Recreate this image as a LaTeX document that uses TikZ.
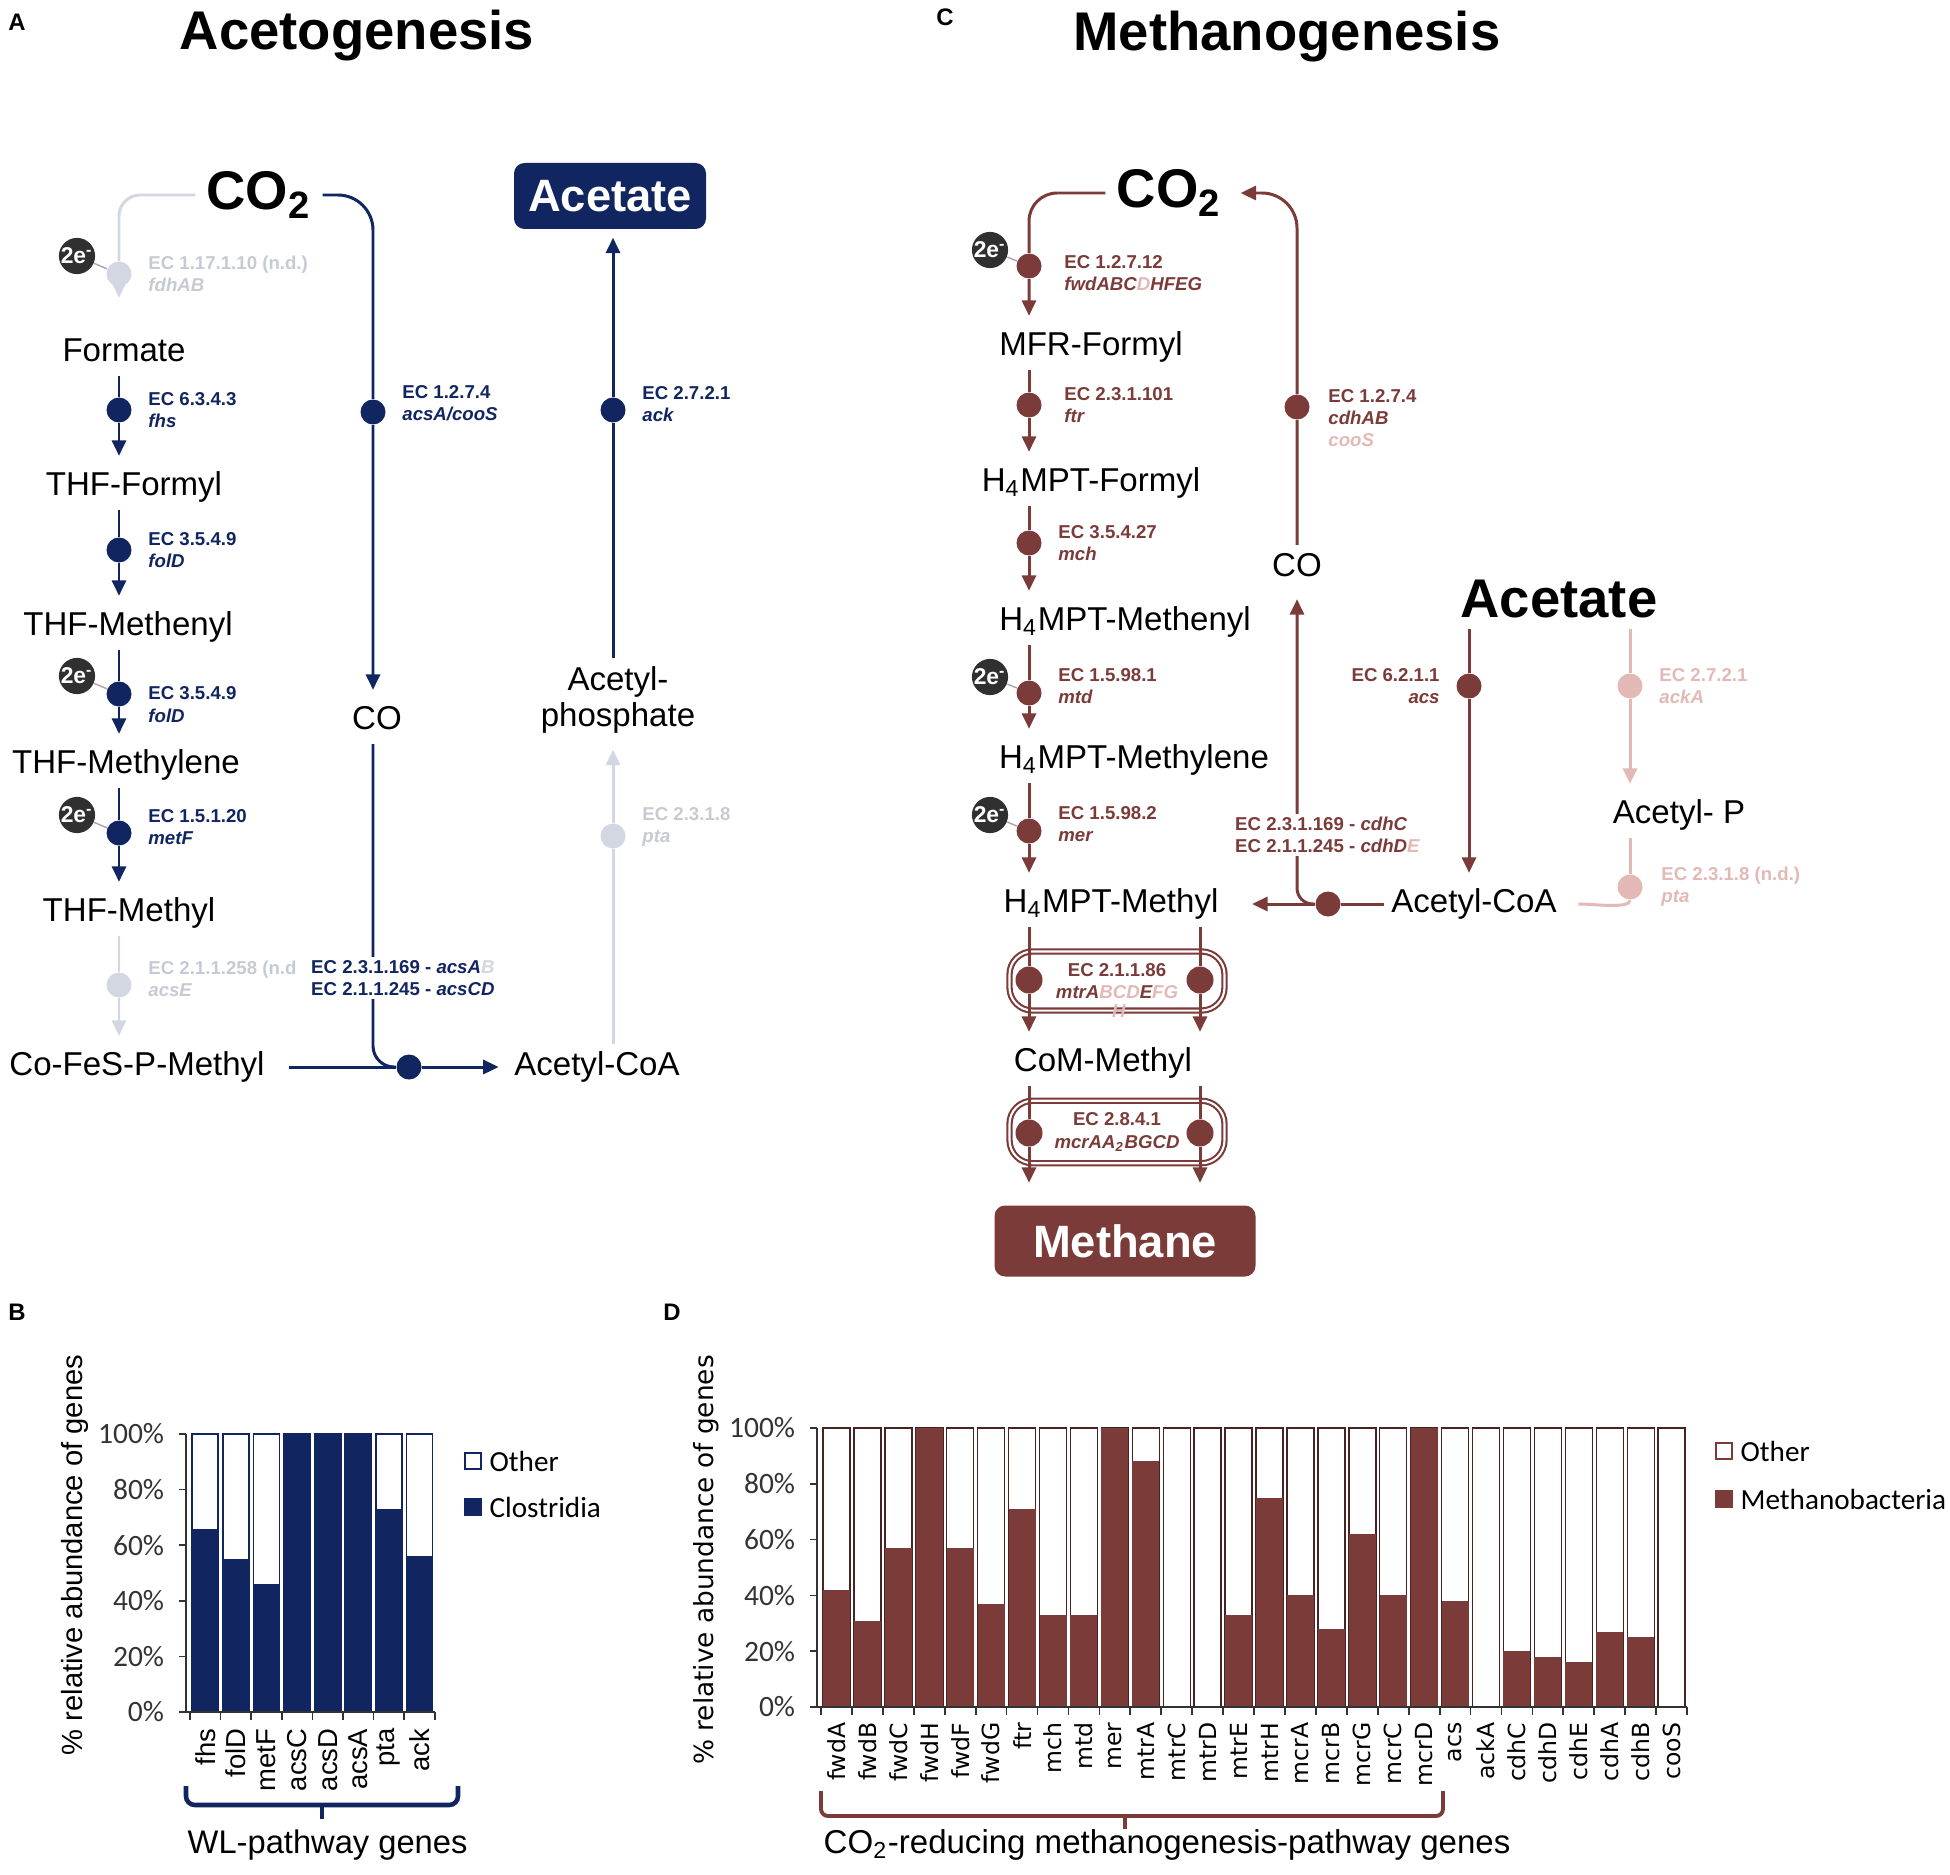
\documentclass[tikz,border=0pt]{standalone}
\usepackage{fontspec}
\setmainfont{Liberation Sans}
\newfontfamily\calibrifont{Carlito}
\newfontfamily\verdanafont{DejaVu Sans}
\usepackage{tikz}
\usetikzlibrary{
    arrows.meta,
    positioning,
}
\definecolor{aceto}{RGB}{17,37,96}
\definecolor{acetopale}{RGB}{210,215,226}
\definecolor{methano}{RGB}{122,59,57}
\definecolor{methanopale}{RGB}{226,185,181}
\definecolor{electrongray}{RGB}{48,48,48}
\tikzset{
    metabolite/.style={font=\fontsize{9.4}{10.6}\selectfont, inner sep=2pt, text height=6.9pt, text depth=1.9pt},
    substrate/.style={font=\bfseries\fontsize{15.5}{17}\selectfont, inner sep=3pt},
    end product/.style={rounded corners=3pt, text=white, font=\bfseries\fontsize{12.9}{14}\selectfont},
    enzyme/.style={circle, minimum size=2.5mm, inner sep=0pt},
    ec label/.style={font=\bfseries\fontsize{5.3}{6.3}\selectfont, align=left, inner sep=1pt},
    two electrons/.style={circle, fill=electrongray, text=white, minimum size=3.4mm, inner sep=0pt, font=\bfseries\fontsize{6.5}{7}\selectfont},
    electron link/.style={gray!70, line width=0.4pt},
    reaction/.style={line width=0.85pt, -{Triangle[length=4.4pt,width=4pt]}, shorten >=0.8mm},
    branch/.style={line width=0.85pt},
    complex/.style={draw=methano, line width=0.6pt, double=white, double distance=0.6pt, rounded corners=2.3mm,
        minimum width=21.5mm, minimum height=4.7mm, align=center, text=methano, font=\bfseries\fontsize{5.3}{6.4}\selectfont},
    panel label/.style={font=\bfseries\fontsize{6.8}{8}\selectfont},
    panel title/.style={font=\bfseries\fontsize{15.5}{17}\selectfont},
}

\begin{document}
\begin{tikzpicture}[
    x=0.1mm, y=-0.1mm,
    tick label/.style={font=\calibrifont\fontsize{8.4}{9}\selectfont, inner sep=4pt},
    legend label/.style={font=\calibrifont\fontsize{8.3}{9}\selectfont, inner sep=2pt},
    gene/.style={rotate=90, anchor=east, inner sep=0pt},
    axis title/.style={font=\fontsize{9.3}{10}\selectfont, inner sep=0pt},
    legend box/.style={minimum size=1.6mm, inner sep=0pt, line width=0.5pt},
    ]
    \useasboundingbox (0,0) rectangle (1950,1875);

    % ---- A: acetogenesis ----
    \node[panel label] (labA) at (17,22) {A};
    \node[panel title] (titA) at (357,36) {Acetogenesis};
    \node[substrate] (co2A) at (259,195) {CO\textsubscript{2}};
    \node[end product, fill=aceto, minimum width=19.2mm, minimum height=6.6mm] (acetA) at (610,196) {Acetate};

    \node[metabolite] (formate) at (124,353) {Formate};
    \node[metabolite] (thfformyl) at (134,487) {THF-Formyl};
    \node[metabolite] (thfmethenyl) at (128,627) {THF-Methenyl};
    \node[metabolite] (thfmethylene) at (126,765) {THF-Methylene};
    \node[metabolite] (thfmethyl) at (129,913) {THF-Methyl};
    \node[metabolite] (cofes) at (137,1067) {Co-FeS-P-Methyl};
    \node[metabolite] (coA) at (377,721) {CO};
    \node[metabolite] (acetylA) at (597,1067) {Acetyl-CoA};
    \node[font=\fontsize{9.4}{10.5}\selectfont, align=center, inner sep=2pt] (acp) at (618,700) {Acetyl-\\phosphate};

    \node[enzyme, fill=acetopale] (fdh) at (119,274) {};
    \node[enzyme, fill=aceto] (fhs) at (119,410) {};
    \node[enzyme, fill=aceto] (folDa) at (119,550) {};
    \node[enzyme, fill=aceto] (folDb) at (119,694) {};
    \node[enzyme, fill=aceto] (metF) at (119,833) {};
    \node[enzyme, fill=acetopale] (acsE) at (119,985) {};
    \node[enzyme, fill=aceto] (cooS) at (373,412) {};
    \node[enzyme, fill=aceto] (acsCD) at (409,1067) {};
    \node[enzyme, fill=acetopale] (pta) at (613,836) {};
    \node[enzyme, fill=aceto] (ack) at (613,410) {};

    \draw[reaction, acetopale, rounded corners=6pt, shorten >=3.2mm] (co2A.west) -| (fdh) -- (fdh |- formate.north);
    \foreach \a/\e/\b/\c in {formate/fhs/thfformyl/aceto, thfformyl/folDa/thfmethenyl/aceto,
        thfmethenyl/folDb/thfmethylene/aceto, thfmethylene/metF/thfmethyl/aceto, thfmethyl/acsE/cofes/acetopale}
        \draw[reaction, \c] (\e |- \a.south) -- (\e) -- (\e |- \b.north);
    \draw[reaction, aceto, rounded corners=10pt] (co2A.east) -| (cooS) -- (cooS |- coA.north);
    \draw[branch, aceto, rounded corners=6pt] (cooS |- coA.south) |- (acsCD);
    \draw[branch, aceto, shorten <=1.7mm] (cofes.east) -- (acsCD);
    \draw[reaction, aceto] (acsCD) -- (acetylA.west);
    \draw[reaction, acetopale] (pta |- acetylA.north) -- (pta) -- (pta |- acp.south);
    \draw[reaction, aceto] (ack |- acp.north) -- (ack) -- (ack |- acetA.south);

    \foreach \e/\n in {fdh/eA, folDb/eB, metF/eC} {
        \node[two electrons] (\n) at ([xshift=-4.2mm, yshift=1.8mm]\e) {2e\textsuperscript{-}};
        \draw[electron link] (\n) -- (\e);
    }

    \node[ec label, text=acetopale!85!gray, right=1.2mm of fdh] (fdhlab) {EC 1.17.1.10 (n.d.)\\\textit{fdhAB}};
    \node[ec label, text=aceto, right=1.2mm of fhs] (fhslab) {EC 6.3.4.3\\\textit{fhs}};
    \node[ec label, text=aceto, right=1.2mm of folDa] (folDalab) {EC 3.5.4.9\\\textit{folD}};
    \node[ec label, text=aceto, right=1.2mm of folDb, yshift=-3pt] (folDblab) {EC 3.5.4.9\\\textit{folD}};
    \node[ec label, text=aceto, right=1.2mm of metF, yshift=1.7pt] (metFlab) {EC 1.5.1.20\\\textit{metF}};
    \node[ec label, text=acetopale!85!gray, right=1.2mm of acsE, yshift=1.7pt] (acsElab) {EC 2.1.1.258 (n.d\\\textit{acsE}};
    \node[ec label, text=aceto, right=1.2mm of cooS, yshift=2.4pt] (cooSlab) {EC 1.2.7.4\\\textit{acsA/cooS}};
    \node[ec label, text=aceto, fill=white, anchor=west] (acsCDlab) at (307,978)
        {EC 2.3.1.169 - \textit{acsA\textcolor{acetopale}{B}}\\EC 2.1.1.245 - \textit{acsCD}};
    \node[ec label, text=aceto, right=1.2mm of ack, yshift=1.8pt] (acklab) {EC 2.7.2.1\\\textit{ack}};
    \node[ec label, text=acetopale!85!gray, right=1.2mm of pta, yshift=2.5pt] (ptalab) {EC 2.3.1.8\\\textit{pta}};

    % ---- C: methanogenesis ----
    \node[panel label] (labC) at (945,17) {C};
    \node[panel title] (titC) at (1287,37) {Methanogenesis};
    \node[substrate] (co2C) at (1169,193) {CO\textsubscript{2}};
    \node[metabolite] (mfr) at (1091,347) {MFR-Formyl};
    \node[metabolite] (hformyl) at (1091,483) {H\textsubscript{4}MPT-Formyl};
    \node[metabolite] (hmethenyl) at (1125,622) {H\textsubscript{4}MPT-Methenyl};
    \node[metabolite] (hmethylene) at (1134,760) {H\textsubscript{4}MPT-Methylene};
    \node[metabolite] (hmethyl) at (1111,904) {H\textsubscript{4}MPT-Methyl};
    \node[metabolite] (commethyl) at (1103,1063) {CoM-Methyl};
    \node[end product, fill=methano, minimum width=26.1mm, minimum height=7.1mm] (methane) at (1125,1241) {Methane};
    \node[metabolite] (coC) at (1297,568) {CO};
    \node[substrate] (acetC) at (1559,599) {Acetate};
    \node[metabolite] (acetylC) at (1474,904) {Acetyl-CoA};
    \node[metabolite] (acetylP) at (1679,815) {Acetyl- P};

    \node[complex] (mtr) at (1117,981) {EC 2.1.1.86\\\textit{mtrA\textcolor{methanopale}{BCD}E\textcolor{methanopale}{FG}}};
    \node[complex] (mcr) at (1117,1132) {EC 2.8.4.1\\\textit{mcrAA\textsubscript{2}BGCD}};
    \node[ec label, text=methanopale] (mtrH) at (1119,1011) {\textit{H}};

    \node[enzyme, fill=methano] (fwd) at (1029,266) {};
    \node[enzyme, fill=methano] (ftr) at (1029,405) {};
    \node[enzyme, fill=methano] (mch) at (1029,543) {};
    \node[enzyme, fill=methano] (mtd) at (1029,693) {};
    \node[enzyme, fill=methano] (mer) at (1029,831) {};
    \node[enzyme, fill=methano, minimum size=2.7mm] (mtrL) at (1029,980) {};
    \node[enzyme, fill=methano, minimum size=2.7mm] (mtrR) at (1200,980) {};
    \node[enzyme, fill=methano, minimum size=2.7mm] (mcrL) at (1029,1133) {};
    \node[enzyme, fill=methano, minimum size=2.7mm] (mcrR) at (1200,1133) {};
    \node[enzyme, fill=methano] (cdh) at (1297,407) {};
    \node[enzyme, fill=methano] (cdhCDE) at (1328,904) {};
    \node[enzyme, fill=methano] (acs) at (1469,686) {};
    \node[enzyme, fill=methanopale] (ackA) at (1630,686) {};
    \node[enzyme, fill=methanopale] (ptaM) at (1630,887) {};

    \draw[reaction, methano, rounded corners=8pt] (co2C.west) -| (fwd) -- (fwd |- mfr.north);
    \foreach \a/\e/\b in {mfr/ftr/hformyl, hformyl/mch/hmethenyl, hmethenyl/mtd/hmethylene,
        hmethylene/mer/hmethyl, hmethyl/mtrL/commethyl, hmethyl/mtrR/commethyl}
        \draw[reaction, methano] (\e |- \a.south) -- (\e) -- (\e |- \b.north);
    \foreach \e in {mcrL, mcrR}
        \draw[reaction, methano, shorten >=2.2mm] (\e |- commethyl.south) -- (\e) -- (\e |- methane.north);
    \draw[reaction, methano, rounded corners=10pt] (coC.north) -- (cdh) |- (co2C.east);
    \draw[reaction, methano, shorten >=2.6mm] (acetylC.west) -- (cdhCDE) -- (hmethyl.east);
    \draw[reaction, methano, rounded corners=4.5pt] (cdhCDE) -| (coC.south);
    \draw[reaction, methano] (acs |- acetC.south) -- (acs) -- (acs |- acetylC.north);
    \draw[reaction, methanopale] (ackA |- acetC.south) -- (ackA) -- (ackA |- acetylP.north);
    \draw[branch, methanopale] (ptaM |- acetylP.south) -- (ptaM);
    \draw[branch, methanopale, shorten >=4pt] (ptaM) .. controls +(0,22) and +(30,0) .. (acetylC.east);

    \foreach \e/\n in {fwd/eD, mtd/eE, mer/eF} {
        \node[two electrons] (\n) at ([xshift=-3.9mm, yshift=1.6mm]\e) {2e\textsuperscript{-}};
        \draw[electron link] (\n) -- (\e);
    }

    \node[ec label, text=methano, right=1.8mm of fwd, yshift=-2pt] (fwdlab) {EC 1.2.7.12\\\textit{fwdABC\textcolor{methanopale}{D}HFEG}};
    \node[ec label, text=methano, right=1.8mm of ftr] (ftrlab) {EC 2.3.1.101\\\textit{ftr}};
    \node[ec label, text=methano, right=1.2mm of mch] (mchlab) {EC 3.5.4.27\\\textit{mch}};
    \node[ec label, text=methano, right=1.2mm of mtd, yshift=2pt] (mtdlab) {EC 1.5.98.1\\\textit{mtd}};
    \node[ec label, text=methano, right=1.2mm of mer, yshift=2pt] (merlab) {EC 1.5.98.2\\\textit{mer}};
    \node[ec label, text=methano, right=1.4mm of cdh, yshift=-3.1pt] (cdhlab) {EC 1.2.7.4\\\textit{cdhAB}\\\textcolor{methanopale}{\textit{cooS}}};
    \node[ec label, text=methano, fill=white, anchor=west] (cdhCDElab) at (1231,835)
        {EC 2.3.1.169 - \textit{cdhC}\\EC 2.1.1.245 - \textit{cdhD\textcolor{methanopale}{E}}};
    \node[ec label, text=methano, align=right, left=1.2mm of acs] (acslab) {EC 6.2.1.1\\\textit{acs}};
    \node[ec label, text=methanopale, right=1.2mm of ackA] (ackAlab) {EC 2.7.2.1\\\textit{ackA}};
    \node[ec label, text=methanopale, right=1.4mm of ptaM] (ptaMlab) {EC 2.3.1.8 (n.d.)\\\textit{pta}};

    % ---- B: WL-pathway genes ----
    \node[panel label] (labB) at (17,1312) {B};
    \def\Bleft{190} \def\Bslot{30.6} \def\Bzero{1712} \def\Bunit{2.78}
    \foreach \g/\v [count=\i] in {fhs/66, folD/55, metF/46, acsC/100, acsD/100, acsA/100, pta/73, ack/56} {
        \pgfmathsetmacro\xa{\Bleft+(\i-1)*\Bslot+2.3}
        \draw[aceto, line width=0.5pt, fill=white] (\xa,\Bzero) rectangle ++(26,-100*\Bunit);
        \fill[aceto] (\xa,\Bzero) rectangle ++(26,-\v*\Bunit);
        \node[gene, font=\fontsize{7.8}{8}\selectfont] (gB\i) at (\xa+13,1728) {\g};
    }
    \draw[black!80, line width=0.5pt] (186,\Bzero) -- (186,{\Bzero-100*\Bunit});
    \draw[black!80, line width=0.5pt] (186,\Bzero) -- (\Bleft+8*\Bslot,\Bzero);
    \foreach \k in {0,...,8}
        \draw[black!80, line width=0.5pt] ({\Bleft+\k*\Bslot},\Bzero) -- ++(0,8);
    \foreach \p in {0,20,...,100}
        \draw[black!80, line width=0.5pt] (186,{\Bzero-\p*\Bunit}) -- ++(-7,0) node[tick label, left] (tB\p) {\p\%};
    \node[rotate=90, font=\fontsize{8.3}{9}\selectfont] (ylabB) at (75,1555) {\% relative abundance of genes};
    \node[legend box, draw=aceto, fill=white] (legBo) at (473,1461) {};
    \node[legend label, right=0mm of legBo] (legBotext) {Other};
    \node[legend box, draw=aceto, fill=aceto] (legBc) at (473,1507) {};
    \node[legend label, right=0mm of legBc] (legBctext) {Clostridia};
    \draw[aceto, line width=1.3pt, rounded corners=2.5pt] (186,1786) -- (186,1805) -- (458,1805) -- (458,1786);
    \draw[aceto, line width=1.3pt] (322,1805) -- (322,1819);
    \node[axis title, anchor=west] (wlB) at (187,1845) {WL-pathway genes};

    % ---- D: methanogenesis genes ----
    \node[panel label] (labD) at (672,1312) {D};
    \def\Dleft{821} \def\Dslot{30.93} \def\Dzero{1707} \def\Dunit{2.79}
    \foreach \g/\v [count=\i] in {fwdA/42, fwdB/31, fwdC/57, fwdH/100, fwdF/57, fwdG/37, ftr/71, mch/33,
        mtd/33, mer/100, mtrA/88, mtrC/0, mtrD/0, mtrE/33, mtrH/75, mcrA/40, mcrB/28, mcrG/62, mcrC/40,
        mcrD/100, acs/38, ackA/0, cdhC/20, cdhD/18, cdhE/16, cdhA/27, cdhB/25, cooS/0} {
        \pgfmathsetmacro\xa{\Dleft+(\i-1)*\Dslot+2}
        \draw[methano!60!black, line width=0.4pt, fill=white] (\xa,\Dzero) rectangle ++(27,-100*\Dunit);
        \fill[methano] (\xa,\Dzero) rectangle ++(27,-\v*\Dunit);
        \node[gene, font=\verdanafont\fontsize{6.7}{7}\selectfont] (gD\i) at (\xa+13.5,1722) {\g};
    }
    \draw[black!80, line width=0.5pt] (817,\Dzero) -- (817,{\Dzero-100*\Dunit});
    \draw[black!80, line width=0.5pt] (817,\Dzero) -- (\Dleft+28*\Dslot,\Dzero);
    \foreach \k in {0,...,28}
        \draw[black!80, line width=0.5pt] ({\Dleft+\k*\Dslot},\Dzero) -- ++(0,8);
    \foreach \p in {0,20,...,100}
        \draw[black!80, line width=0.5pt] (817,{\Dzero-\p*\Dunit}) -- ++(-7,0) node[tick label, left] (tD\p) {\p\%};
    \node[rotate=90, font=\verdanafont\fontsize{7.5}{8}\selectfont] (ylabD) at (706,1560) {\% relative abundance of genes};
    \node[legend box, draw=methano, fill=white] (legDo) at (1724,1451) {};
    \node[legend label, right=0mm of legDo] (legDotext) {Other};
    \node[legend box, draw=methano, fill=methano] (legDm) at (1724,1499) {};
    \node[legend label, right=0mm of legDm] (legDmtext) {Methanobacteria};
    \draw[methano, line width=1.1pt, rounded corners=2pt] (821,1791) -- (821,1816) -- (1443,1816) -- (1443,1791);
    \draw[methano, line width=1.1pt] (1125,1816) -- (1125,1829);
    \node[axis title, anchor=west, font=\fontsize{9.4}{10}\selectfont] (co2D) at (823,1845) {CO\textsubscript{2}-reducing methanogenesis-pathway genes};
\end{tikzpicture}
\end{document}
